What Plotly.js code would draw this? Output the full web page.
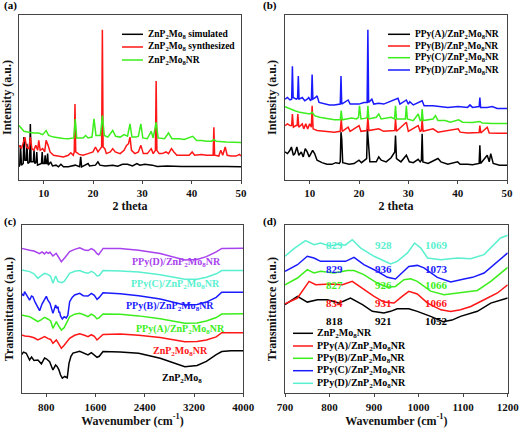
<!DOCTYPE html>
<html><head><meta charset="utf-8">
<script src="https://cdn.plot.ly/plotly-3.0.1.min.js"></script>
<style>html,body{margin:0;padding:0;background:#fff}#chart{width:520px;height:429px}</style>
</head><body><div id="chart"></div>
<script>
// ---------- DATA ----------
const ZN = 'ZnP<sub>2</sub>Mo<sub>8</sub>';
// Panel (a): XRD, 2 theta vs intensity (a.u.)
const aNames = [ZN + ' simulated', ZN + ' synthesized', ZN + 'NR'];
const aSimulated = [[5.0,8],[5.15,9],[5.3,21],[5.5,9],[5.85,10],[6.0,26],[6.2,12],[6.5,12],[6.6,22],[6.8,10],[7.15,11],[7.3,34],[7.45,11],[7.9,11],[8.05,18],[8.2,10],[8.5,11],[8.6,17],[8.75,9],[9.3,10],[9.55,10],[9.7,17],[9.85,10],[10.15,10],[10.3,15],[10.45,10],[10.65,10],[10.8,16],[10.95,9],[11.4,11],[11.8,8.5],[12.5,9],[13.0,8],[13.5,9.5],[14.0,8],[15.0,8],[16.4,9],[17.3,8],[17.5,14],[17.7,8],[19.0,10],[19.3,8.5],[20.5,9],[21.0,11],[21.4,9],[22.5,8.5],[24.0,9],[25.0,8.3],[26.0,9.5],[27.0,9.5],[28.0,8.5],[28.9,10],[29.5,9],[30.5,9.5],[32.0,9],[33.0,8.2],[35.0,8.5],[38.0,8.2],[42.0,8.3],[44.0,8.5],[47.0,8.2],[50.0,8]];
const aSynthesized = [[5.0,21],[5.5,19],[6.0,24],[6.2,26],[6.5,20],[7.0,19],[7.3,26],[7.6,19],[8.0,18],[8.4,21],[8.8,18],[9.0,24],[9.3,18],[9.8,19],[10.2,17],[10.5,24],[10.9,21],[11.3,17],[12.0,15],[13.0,14.5],[14.0,14],[15.0,15],[15.5,16.5],[16.0,15],[16.2,17],[16.35,46],[16.5,17],[17.2,15.5],[18.0,15],[19.0,16],[20.0,17],[20.5,20],[21.0,17],[21.5,19],[21.75,20],[21.9,91],[22.05,20],[22.4,19],[22.7,16],[23.5,17],[24.0,19],[24.5,17],[25.5,16],[26.3,18],[26.8,21],[27.2,22],[27.5,26],[27.8,18],[28.5,16],[29.2,17],[29.7,21],[30.2,16],[31.0,16],[31.8,19],[32.2,16],[32.65,18],[32.8,60],[32.95,18],[33.4,16],[34.0,16],[34.8,17],[35.3,16],[35.9,19],[36.4,17],[37.0,15],[38.0,15],[39.5,15],[40.1,17],[40.6,15],[42.0,15.5],[43.0,15],[44.35,15],[44.5,32],[44.65,15],[45.5,14.5],[45.9,18],[46.3,15],[46.8,20],[47.2,15],[48.0,14.5],[49.0,14.5],[49.7,15.5],[50.0,14.5]];
const aNR = [[5.0,33],[5.5,31],[6.0,29.5],[7.0,29],[8.0,28.5],[9.0,28.5],[9.8,27.5],[10.5,30],[11.0,27],[12.0,26],[13.0,25.5],[14.0,25.2],[15.0,25],[16.1,25.5],[16.4,37],[16.7,25.5],[18.0,25.5],[18.5,27],[19.0,25.5],[19.8,26],[20.2,37],[20.6,27],[21.5,27],[21.9,39],[22.3,27],[23.0,26],[24.0,30],[24.6,26.5],[25.5,26],[26.3,27.5],[27.0,26.5],[27.5,34],[27.9,26],[28.7,26],[29.2,26.5],[29.7,34],[30.1,25.5],[31.0,25],[31.8,29.5],[32.2,25.5],[32.8,35],[33.2,25.5],[34.5,25],[35.3,28.5],[36.0,25],[37.5,25],[38.5,24.5],[40.2,26.5],[41.0,24],[42.0,24],[43.0,23.5],[44.0,23.5],[44.5,24.5],[45.0,23.5],[47.0,23],[49.0,23],[50.0,22.8]];

// Panel (b): XRD of PPy composites
const bNames = ['PPy(A)/' + ZN + 'NR', 'PPy(B)/' + ZN + 'NR', 'PPy(C)/' + ZN + 'NR', 'PPy(D)/' + ZN + 'NR'];
const bA = [[5.0,17],[5.5,16],[6.0,18],[6.3,20],[6.7,15],[7.0,16],[7.4,20],[7.8,15],[8.3,17],[8.7,14],[9.1,19],[9.5,17],[9.9,14],[10.3,16],[10.6,18],[11.0,16],[11.5,12],[12.5,10.5],[13.5,9.5],[14.5,9.5],[15.3,10.5],[16.0,10],[16.2,11],[16.35,29],[16.5,25],[16.7,10.5],[18.0,9.5],[19.0,10],[20.0,12],[20.5,10.5],[21.1,12],[21.55,13],[21.7,31],[21.9,20],[22.2,11],[23.5,11],[24.0,14],[24.5,12],[25.5,11],[26.5,13.5],[27.0,16],[27.25,17],[27.4,27],[27.6,13],[28.5,11],[29.6,15],[30.2,11],[31.0,10.5],[32.0,12.5],[32.4,11],[32.65,12],[32.8,28],[32.95,11],[34.0,10],[35.0,11.5],[36.0,13],[36.6,11],[38.0,9.5],[40.0,11],[40.5,9.5],[42.0,9.5],[43.0,9.2],[44.35,10],[44.5,21],[44.65,10],[46.0,15],[46.4,11],[46.7,16],[47.2,10],[48.5,9],[50.0,9]];
const bB = [[5.0,33],[5.5,34],[6.0,33],[6.35,33],[6.5,40],[6.7,32],[7.2,33],[7.45,33],[7.6,40],[7.8,32],[8.5,34],[8.8,31],[9.2,34],[9.6,31],[10.0,34],[10.35,32],[10.5,45],[10.7,31],[11.5,30],[13.0,29.5],[15.0,29],[16.2,29.5],[16.4,37],[16.6,29.5],[17.8,32],[18.2,29.5],[20.0,33],[20.4,29.5],[21.6,30],[21.8,38],[22.0,30],[24.0,31],[25.0,29.5],[27.25,30],[27.4,37],[27.6,29.5],[29.6,35],[30.0,29.5],[32.0,33],[32.4,29.5],[32.65,30],[32.8,37],[33.0,29.5],[35.0,31],[36.0,29],[40.1,31],[40.5,29],[42.0,28.5],[44.35,28.8],[44.5,33],[44.7,28.5],[46.0,32],[46.4,28.5],[48.0,28.3],[50.0,28.3]];
const bC = [[5.0,44.5],[6.0,43],[7.0,42],[8.0,41],[9.0,40.5],[10.0,40],[10.5,41],[11.0,39],[12.0,38],[13.0,37.5],[14.0,37],[15.0,36.5],[16.2,36.5],[16.4,42],[16.6,36.5],[18.5,37.5],[19.5,37],[19.9,38],[20.1,45],[20.4,37],[21.4,37.5],[21.65,38],[21.8,45],[22.0,37],[23.5,38],[24.0,40],[24.5,37],[26.5,38],[27.2,37],[27.4,45],[27.6,37],[29.4,37],[29.6,45],[29.8,37],[31.0,36],[32.0,40],[32.4,36],[32.65,36.5],[32.8,43],[33.0,36],[35.0,37],[35.5,39],[36.0,36],[37.5,36],[38.5,35],[40.2,36.5],[41.0,35],[43.0,34.8],[44.5,35.5],[45.0,34.5],[47.0,34.3],[50.0,34.2]];
const bD = [[5.0,49],[5.5,50],[6.0,48.5],[6.35,49],[6.5,69],[6.65,50],[7.3,49],[7.55,49.5],[7.7,63],[7.85,49],[8.5,50],[9.0,48],[9.5,49],[9.8,50],[10.2,48],[10.35,49],[10.5,64],[10.65,49],[11.2,50],[11.5,51],[11.9,47],[13.0,46],[14.0,45.5],[15.0,45.5],[16.2,46],[16.35,63],[16.5,46],[17.8,48.5],[18.2,46],[20.0,46],[21.0,47],[21.65,47],[21.8,91],[21.95,47],[22.6,49],[23.0,46],[24.0,46.5],[25.0,46],[27.5,49],[27.9,49.5],[28.3,46],[29.6,48.5],[30.0,46],[30.3,47.5],[31.0,45.5],[32.8,48],[33.2,45],[35.0,45],[38.0,44],[40.1,44.5],[42.0,44],[42.5,45.5],[43.0,44],[44.35,44.5],[44.5,50],[44.65,44],[46.0,44],[47.0,44.5],[48.0,43.3],[50.0,43.3]];

// Panel (c): FTIR 400-4000 cm-1, transmittance (a.u.)
const cNames = [ZN, ZN + 'NR', 'PPy(A)/' + ZN + 'NR', 'PPy(B)/' + ZN + 'NR', 'PPy(C)/' + ZN + 'NR', 'PPy(D)/' + ZN + 'NR'];
const cZn = [[393,22.8],[430,24.5],[474,23.8],[528,19.8],[560,21.5],[600,19.5],[663,19.8],[720,17.5],[772,21.0],[800,20.5],[854,18.8],[880,16.5],[907,13.9],[951,16.8],[975,16.0],[1005,13.9],[1030,11.0],[1060,9.0],[1100,10.0],[1140,9.2],[1168,17.8],[1200,22.0],[1233,23.9],[1342,24.9],[1420,23.5],[1477,22.8],[1532,24.2],[1580,23.0],[1624,21.4],[1660,22.0],[1721,24.8],[2000,24.6],[2300,23.8],[2650,20.8],[3050,15.8],[3250,16.5],[3400,19.0],[3560,23.0],[3650,24.8],[3800,25.3],[4000,25.3]];
const cZnNR = [[393,34.7],[450,34.0],[528,33.7],[600,33.0],[663,31.7],[720,32.5],[772,33.7],[830,32.5],[870,32.0],[907,29.7],[963,31.7],[1000,29.5],[1044,26.7],[1090,28.5],[1179,32.7],[1260,34.5],[1342,35.3],[1420,34.5],[1477,33.7],[1532,34.8],[1580,33.8],[1624,31.7],[1660,33.0],[1721,35.0],[2000,35.3],[2300,34.5],[2650,33.1],[3050,30.7],[3250,30.8],[3400,31.7],[3560,33.5],[3650,36.0],[3800,36.0],[4000,36.0]];
const cA = [[393,46.5],[450,46.0],[528,45.5],[600,44.0],[663,42.6],[720,43.8],[772,45.1],[830,44.0],[870,43.0],[907,38.6],[963,42.6],[1000,40.0],[1044,37.6],[1090,39.0],[1125,41.6],[1179,45.5],[1260,47.0],[1342,47.5],[1420,46.5],[1477,45.5],[1532,47.0],[1580,46.0],[1624,44.2],[1660,45.0],[1721,47.1],[2000,46.9],[2300,46.0],[2650,44.3],[3050,41.6],[3250,41.8],[3400,43.0],[3560,45.0],[3650,47.1],[3800,47.3],[4000,47.3]];
const cB = [[393,59.4],[430,58.0],[447,60.4],[490,57.5],[528,55.4],[560,57.8],[582,57.4],[620,54.0],[660,51.0],[691,49.1],[730,53.0],[772,56.4],[800,57.6],[826,55.4],[860,53.5],[907,47.5],[930,50.0],[951,52.5],[970,50.5],[989,51.5],[1005,48.0],[1016,48.5],[1030,46.0],[1044,45.0],[1060,44.2],[1090,45.5],[1125,44.8],[1150,46.5],[1179,54.4],[1220,57.0],[1260,58.4],[1342,59.4],[1400,58.0],[1477,57.8],[1532,59.4],[1580,58.2],[1624,55.8],[1660,57.0],[1721,59.8],[2000,59.2],[2300,58.0],[2650,56.0],[3050,52.5],[3250,52.8],[3400,54.2],[3560,57.0],[3650,60.0],[3800,60.1],[4000,60.1]];
const cC = [[400,73.3],[450,72.8],[530,72.3],[600,71.0],[663,68.3],[700,69.5],[772,71.3],[830,70.5],[870,69.5],[907,65.4],[951,69.7],[989,66.5],[1016,66.3],[1044,65.7],[1090,66.5],[1179,71.3],[1260,72.5],[1342,72.9],[1420,71.8],[1477,71.3],[1532,72.5],[1580,71.5],[1624,69.7],[1660,70.0],[1721,72.9],[2000,72.7],[2300,72.0],[2650,70.5],[3050,67.7],[3250,67.8],[3400,69.0],[3560,71.0],[3650,72.9],[3800,73.0],[4000,73.0]];
const cD = [[400,86.1],[450,85.5],[530,85.0],[600,84.5],[690,83.0],[730,84.0],[770,82.8],[800,84.0],[830,83.2],[860,83.8],[907,81.6],[960,83.2],[1000,81.0],[1044,78.2],[1100,80.5],[1179,84.2],[1260,85.5],[1342,86.5],[1420,85.2],[1478,84.8],[1532,86.0],[1580,85.0],[1624,83.0],[1650,82.4],[1722,86.1],[2000,86.0],[2300,85.0],[2650,83.0],[3050,79.2],[3250,79.5],[3400,81.2],[3560,84.0],[3650,86.1],[3800,86.2],[4000,86.2]];

// Panel (d): FTIR 700-1200 cm-1
const dNames = [ZN + 'NR', 'PPy(A)/' + ZN + 'NR', 'PPy(B)/' + ZN + 'NR', 'PPy(C)/' + ZN + 'NR', 'PPy(D)/' + ZN + 'NR'];
const dNR = [[700,52.7],[728,57.6],[750,54.2],[773,55.6],[795,55.6],[821,53.6],[847,56.6],[874,52.7],[896,48.7],[922,47.7],[937,48.7],[952,50.2],[978,50.2],[997,48.7],[1027,45.7],[1055,42.5],[1075,43.5],[1094,45.7],[1132,48.7],[1162,53.6],[1200,56.6]];
const dA = [[700,53.1],[728,56.6],[754,66.5],[769,64.5],[802,64.9],[829,64.5],[851,66.5],[877,61.6],[900,57.6],[922,54.2],[945,53.6],[963,57.6],[978,60.6],[997,59.0],[1020,53.6],[1050,49.6],[1072,48.6],[1094,49.6],[1117,51.6],[1147,55.6],[1177,59.6],[1200,64.5]];
const dB = [[700,64.5],[728,68.5],[750,73.5],[765,71.5],[780,72.5],[810,71.5],[840,73.0],[855,73.0],[877,70.5],[907,65.5],[930,63.0],[948,63.5],[967,67.5],[982,68.1],[997,66.5],[1027,60.7],[1057,58.6],[1087,59.6],[1105,60.5],[1132,61.1],[1162,66.5],[1200,74.8]];
const dC = [[700,72.5],[728,76.4],[750,81.4],[765,80.4],[780,78.4],[810,78.4],[836,78.4],[855,80.8],[877,76.4],[907,72.5],[930,68.9],[948,67.9],[963,71.5],[978,75.4],[997,76.0],[1012,74.5],[1042,68.9],[1072,66.1],[1102,67.9],[1121,68.9],[1147,71.5],[1177,78.4],[1200,83.4]];
const dD = [[700,81.4],[720,86.0],[746,90.7],[765,88.3],[780,89.3],[800,87.5],[820,88.5],[835,88.0],[851,91.3],[870,86.3],[900,81.4],[922,78.4],[937,76.8],[952,78.4],[975,83.4],[991,89.3],[1005,86.3],[1020,80.4],[1050,79.4],[1087,80.4],[1117,80.0],[1147,82.4],[1169,88.3],[1184,92.3],[1200,93.9]];
// band-position labels in (d), one row per curve (top to bottom)
const dBandLabels = [['829','928','1069'],['829','936','1073'],['827','926','1066'],['834','931','1066'],['818','921','1052']];

// ---------- STYLE ----------
const F = 'Liberation Serif';
const COL = {k:'#000000', r:'#ff1616', g:'#3cee1c', b:'#1a1aff', c:'#5af0cf', p:'#a841ee'};
const aCol = [COL.k, COL.r, COL.g];
const bCol = [COL.k, COL.r, COL.g, COL.b];
const cCol = [COL.k, COL.r, COL.g, COL.b, COL.c, COL.p];
const dCol = [COL.k, COL.r, COL.g, COL.b, COL.c];
const W = 520, H = 429;
const px = v => v / W, py = v => 1 - v / H;

const traces = [];
function add(series, names, cols, xa, ya) {
  series.forEach((s, i) => traces.push({
    type: 'scatter', mode: 'lines', name: names[i], showlegend: false,
    x: s.map(p => p[0]), y: s.map(p => p[1]), xaxis: xa, yaxis: ya,
    line: {color: cols[i], width: 1.5}
  }));
}
add([aSimulated, aSynthesized, aNR], aNames, aCol, 'x', 'y');
add([bA, bB, bC, bD], bNames, bCol, 'x2', 'y2');
add([cZn, cZnNR, cA, cB, cC, cD], cNames, cCol, 'x3', 'y3');
add([dNR, dA, dB, dC, dD], dNames, dCol, 'x4', 'y4');

const tf = {family: F, size: 11, weight: 'bold', color: '#111'};
const ttl = {family: F, size: 12, weight: 'bold', color: '#111'};
function xax(dom, anchor, range, dtick, title) {
  return {domain: dom, anchor: anchor, range: range, tick0: 0, dtick: dtick,
    showline: true, mirror: true, linecolor: '#444', linewidth: 1, showgrid: false, zeroline: false,
    ticks: 'outside', ticklen: 3, tickcolor: '#444', tickfont: tf,
    title: {text: title, font: ttl, standoff: 2}};
}
function yax(dom, anchor, title) {
  return {domain: dom, anchor: anchor, range: [0, 100], showticklabels: false, ticks: '',
    showline: true, mirror: true, linecolor: '#444', linewidth: 1, showgrid: false, zeroline: false,
    title: {text: title, font: ttl, standoff: 4}};
}

const shapes = [], annotations = [];
function note(text, x, y, size, color, xanchor) {
  annotations.push({text: text, xref: 'paper', yref: 'paper', x: px(x), y: py(y),
    xanchor: xanchor || 'center', yanchor: 'middle', showarrow: false,
    font: {family: F, size: size, weight: 'bold', color: color}});
}
function legend(names, cols, x0, x1, tx, rows, size) {
  names.forEach((n, i) => {
    shapes.push({type: 'line', xref: 'paper', yref: 'paper', x0: px(x0), x1: px(x1),
      y0: py(rows[i]), y1: py(rows[i]), line: {color: cols[i], width: 1.5}});
    note(n, tx, rows[i], size, '#000', 'left');
  });
}
legend(aNames, aCol, 122, 143, 146, [34.3, 47, 60], 9.5);
legend(bNames, bCol, 388, 410, 413, [34.3, 46, 57.7, 70], 9.5);
legend(dNames, dCol, 293, 313, 315, [333.3, 346, 358.3, 370.7, 383.3], 10);

// labels in (c)
const cLabelPos = [[181.7, 378.3], [180, 351.7], [180.3, 329.3], [169.7, 306.7], [175.5, 284], [176.3, 262.7]];
cNames.forEach((n, i) => note(n, cLabelPos[i][0], cLabelPos[i][1], 10, cCol[i]));
// band labels in (d)
const dRowY = [245.3, 268.7, 285.3, 303, 320.7];
const dColX = [334.5, 383, 436.2];
const dRowCol = [COL.c, COL.b, COL.g, COL.r, COL.k];
dBandLabels.forEach((row, r) => row.forEach((t, c) => note(t, dColX[c], dRowY[r], 11, dRowCol[r])));
// panel letters
note('(a)', 2, 6, 11, '#000', 'left');
note('(b)', 261, 6, 11, '#000', 'left');
note('(c)', 2, 221, 11, '#000', 'left');
note('(d)', 261, 221, 11, '#000', 'left');

const layout = {
  width: W, height: H, margin: {l: 0, r: 0, t: 0, b: 0},
  paper_bgcolor: '#fff', plot_bgcolor: '#fff', showlegend: false,
  font: {family: F, size: 11, color: '#111'},
  xaxis: xax([px(19), px(241)], 'y', [5, 50], 10, '2 theta'),
  yaxis: yax([py(180), py(15)], 'x', 'Intensity (a.u.)'),
  xaxis2: xax([px(285), px(507)], 'y2', [5, 50], 10, '2 theta'),
  yaxis2: yax([py(180), py(15)], 'x2', 'Intensity (a.u.)'),
  xaxis3: xax([px(21.7), px(243.3)], 'y3', [400, 4000], 800, 'Wavenumber (cm<sup>-1</sup>)'),
  yaxis3: yax([py(393.3), py(225)], 'x3', 'Transmittance (a.u.)'),
  xaxis4: xax([px(285), px(507.7)], 'y4', [700, 1200], 100, 'Wavenumber (cm<sup>-1</sup>)'),
  yaxis4: yax([py(393.3), py(225)], 'x4', 'Transmittance (a.u.)'),
  shapes: shapes, annotations: annotations
};
Plotly.newPlot('chart', traces, layout, {displayModeBar: false});
</script></body></html>
